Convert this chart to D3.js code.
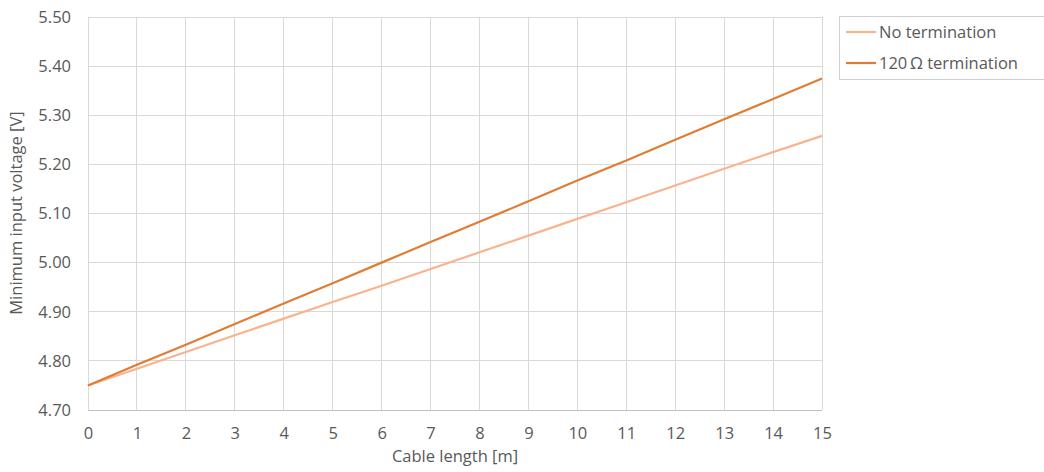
<!DOCTYPE html>
<html><head><meta charset="utf-8">
<script src="https://cdn.jsdelivr.net/npm/d3@7"></script>
<style>body{margin:0;background:#fff;} text{font-family:"Open Sans","Noto Sans",sans-serif;fill:#595959;}</style>
</head><body>
<svg id="c" width="1044" height="472"></svg>
<script>
const lengths = [0,1,2,3,4,5,6,7,8,9,10,11,12,13,14,15];
const noTermination = [4.750,4.784,4.818,4.852,4.886,4.920,4.953,4.987,5.021,5.055,5.089,5.123,5.157,5.191,5.225,5.258];
const term120 = [4.750,4.792,4.833,4.875,4.917,4.958,5.000,5.042,5.083,5.125,5.167,5.208,5.250,5.292,5.333,5.375];
const yTicks = [4.70,4.80,4.90,5.00,5.10,5.20,5.30,5.40,5.50];
const xTicks = [0,1,2,3,4,5,6,7,8,9,10,11,12,13,14,15];
const seriesNames = ["No termination","120\u2009\u03A9 termination"];
const colors = ["#F9B38E","#E07D35"];

const FS = "16.5px";
const svg = d3.select("#c");
const L=88,R=822,T=17,B=410;
const x = d3.scaleLinear().domain([0,15]).range([L,R]);
const y = d3.scaleLinear().domain([4.70,5.50]).range([B,T]);

// grid
svg.append("g").selectAll("line").data(xTicks).join("line")
  .attr("x1",d=>x(d)).attr("x2",d=>x(d)).attr("y1",T).attr("y2",B)
  .attr("stroke","#d9d9d9").attr("stroke-width",1).attr("shape-rendering","crispEdges");
svg.append("g").selectAll("line").data(yTicks).join("line")
  .attr("x1",L).attr("x2",R).attr("y1",d=>y(d)).attr("y2",d=>y(d))
  .attr("stroke","#d9d9d9").attr("stroke-width",1).attr("shape-rendering","crispEdges");
// x axis line
svg.append("line").attr("x1",L).attr("x2",R).attr("y1",B).attr("y2",B)
  .attr("stroke","#bfbfbf").attr("shape-rendering","crispEdges");

const xAxis = d3.axisBottom(x).tickValues(xTicks).tickSize(0).tickPadding(17).tickFormat(d3.format("d"));
const gx = svg.append("g").attr("transform",`translate(0,${B})`).call(xAxis);
gx.select(".domain").remove();
gx.selectAll("text").attr("font-size",FS).style("font-family",'"Open Sans","Noto Sans",sans-serif').attr("fill","#595959");

const yAxis = d3.axisLeft(y).tickValues(yTicks).tickSize(0).tickPadding(17).tickFormat(d3.format(".2f"));
const gy = svg.append("g").attr("transform",`translate(${L},0)`).call(yAxis);
gy.select(".domain").remove();
gy.selectAll("text").attr("font-size",FS).style("font-family",'"Open Sans","Noto Sans",sans-serif').attr("fill","#595959");

// lines
const line = d3.line().x((d,i)=>x(lengths[i])).y(d=>y(d));
[noTermination,term120].forEach((s,k)=>{
  svg.append("path").datum(s).attr("d",line).attr("fill","none")
    .attr("stroke",colors[k]).attr("stroke-width",2.2);
});

// axis titles
svg.append("text").attr("x",455).attr("y",462).attr("text-anchor","middle")
  .attr("font-size",FS).text("Cable length [m]");
svg.append("text").attr("transform","translate(22,213) rotate(-90)").attr("text-anchor","middle")
  .attr("font-size",FS).text("Minimum input voltage [V]");

// legend
svg.append("rect").attr("x",839.5).attr("y",16.5).attr("width",210).attr("height",63)
  .attr("fill","#fff").attr("stroke","#d0d0d0");
seriesNames.forEach((n,k)=>{
  const yy = 32 + k*31;
  svg.append("line").attr("x1",846).attr("x2",876).attr("y1",yy).attr("y2",yy)
    .attr("stroke",colors[k]).attr("stroke-width",2.2);
  svg.append("text").attr("x",879).attr("y",yy+6).attr("font-size",FS).text(n);
});
</script>
</body></html>
